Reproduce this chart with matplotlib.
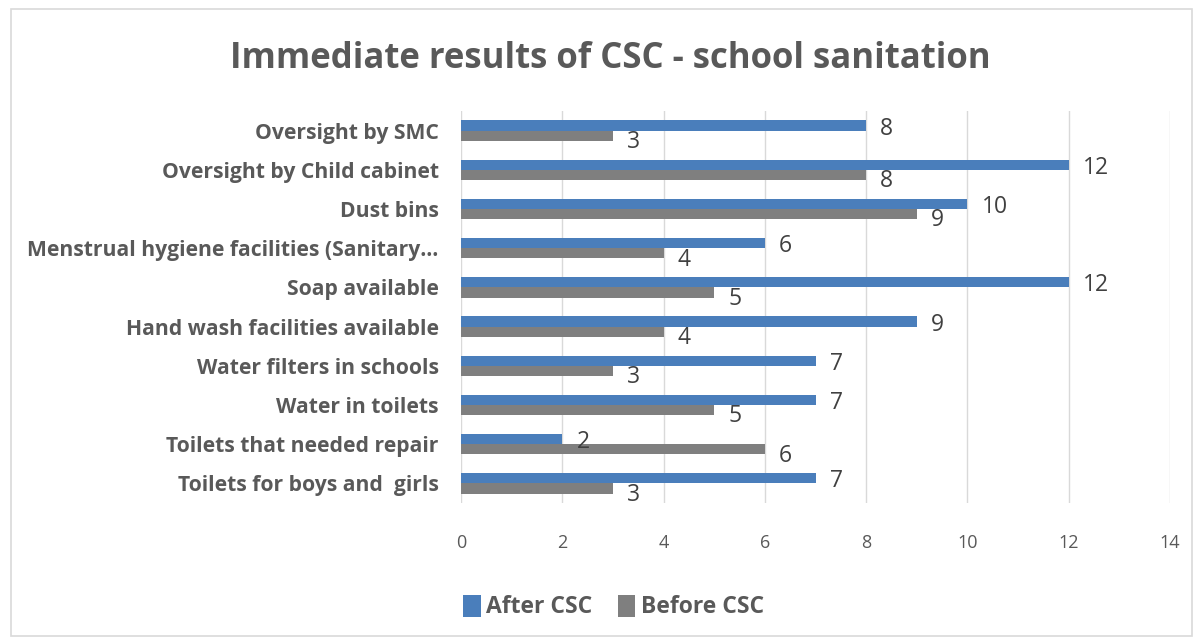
import numpy as np
import matplotlib.pyplot as plt
from matplotlib.patches import Rectangle

categories = ['Oversight by SMC', 'Oversight by Child cabinet', 'Dust bins',
              'Menstrual hygiene facilities (Sanitary…', 'Soap available',
              'Hand wash facilities available', 'Water filters in schools',
              'Water in toilets', 'Toilets that needed repair',
              'Toilets for boys and  girls']
after_csc = [8, 12, 10, 6, 12, 9, 7, 7, 2, 7]
before_csc = [3, 8, 9, 4, 5, 4, 3, 5, 6, 3]
xticks = [0, 2, 4, 6, 8, 10, 12, 14]

plt.rcParams['font.family'] = ['Open Sans', 'DejaVu Sans']

blue = '#4a7ebb'
grey = '#7f7f7f'

fig = plt.figure(figsize=(12.03, 6.41), dpi=100)
fig.patches.append(Rectangle((0.009, 0.008), 0.982, 0.978, transform=fig.transFigure,
                             fill=False, edgecolor='#d9d9d9', lw=1.2))

ax = fig.add_axes([461 / 1203, 1 - 503 / 641, (1170 - 461) / 1203, 392 / 641])

n = len(categories)
y = np.arange(n)[::-1]
h = 0.26
ax.barh(y + h / 2, after_csc, height=h, color=blue, label='After CSC', zorder=3)
ax.barh(y - h / 2, before_csc, height=h, color=grey, label='Before CSC', zorder=3)

for yi, a, b in zip(y, after_csc, before_csc):
    ax.text(a + 0.28, yi + h / 2 - 0.08, str(a), va='center', ha='left', fontsize=16.5, color='#404040')
    ax.text(b + 0.28, yi - h / 2 - 0.16, str(b), va='center', ha='left', fontsize=16.5, color='#404040')

ax.set_xlim(0, 14)
ax.set_ylim(-0.5, n - 0.5)
ax.set_xticks(xticks)
ax.set_xticklabels([str(t) for t in xticks], fontsize=13, color='#595959')
ax.set_yticks(y)
ax.set_yticklabels(categories, fontsize=15.2, fontweight='bold', color='#595959')
ax.tick_params(axis='both', length=0)
ax.tick_params(axis='x', pad=22)
ax.tick_params(axis='y', pad=16)
ax.grid(axis='x', color='#d9d9d9', lw=1, zorder=0)
for s in ax.spines.values():
    s.set_visible(False)

fig.text(0.507, 0.908, 'Immediate results of CSC - school sanitation', ha='center', va='center',
         fontsize=25, fontweight='bold', color='#595959')

fig.legend(loc='center', bbox_to_anchor=(0.51, 0.053), ncol=2, frameon=False,
           handlelength=0.75, handleheight=1.1, handletextpad=0.25, columnspacing=1.1,
           prop={'weight': 'bold', 'size': 16.5})
for t in fig.legends[0].get_texts():
    t.set_color('#595959')

fig.savefig('out.png', dpi=100)
